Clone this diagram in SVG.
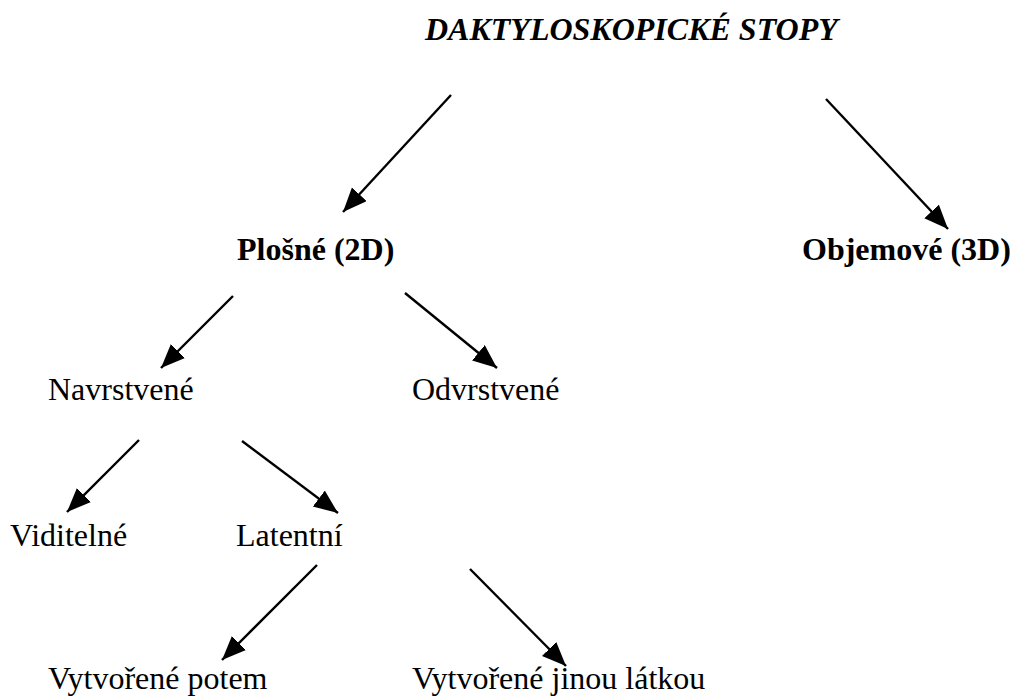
<svg xmlns="http://www.w3.org/2000/svg" width="1011" height="700" viewBox="0 0 1011 700">
<style>
  text { font-family: "Liberation Serif", "Times New Roman", serif; font-size: 32px; fill: #000; }
  .b { font-weight: bold; }
  .bi { font-weight: bold; font-style: italic; }
  .c line { stroke: #000; stroke-width: 2.4; marker-end: url(#ah); }
</style>
<defs>
  <marker id="ah" markerUnits="userSpaceOnUse" markerWidth="26" markerHeight="22" refX="24" refY="10" orient="auto">
    <path d="M0,0 L24,10 L0,20 Z" fill="#000"/>
  </marker>
</defs>
<rect width="1011" height="700" fill="#fff"/>
<g id="connectors" class="c">
  <line x1="451" y1="95" x2="343" y2="212"/>
  <line x1="826" y1="99" x2="948" y2="229"/>
  <line x1="233" y1="296" x2="161" y2="368"/>
  <line x1="405" y1="293" x2="497" y2="368"/>
  <line x1="139" y1="440" x2="67" y2="512"/>
  <line x1="242" y1="441" x2="338" y2="513"/>
  <line x1="317" y1="565" x2="222" y2="660"/>
  <line x1="470" y1="569" x2="566" y2="666"/>
</g>
<g id="n-title"><text class="bi" x="425" y="40">DAKTYLOSKOPICKÉ STOPY</text></g>
<g id="n-plosne"><text class="b" x="237" y="260">Plošné (2D)</text></g>
<g id="n-objemove"><text class="b" x="802" y="260">Objemové (3D)</text></g>
<g id="n-navrstvene"><text x="48" y="400">Navrstvené</text></g>
<g id="n-odvrstvene"><text x="412" y="400">Odvrstvené</text></g>
<g id="n-viditelne"><text x="10" y="546">Viditelné</text></g>
<g id="n-latentni"><text x="236" y="546">Latentní</text></g>
<g id="n-potem"><text x="48" y="689">Vytvořené potem</text></g>
<g id="n-jinou"><text x="412" y="689">Vytvořené jinou látkou</text></g>
</svg>
